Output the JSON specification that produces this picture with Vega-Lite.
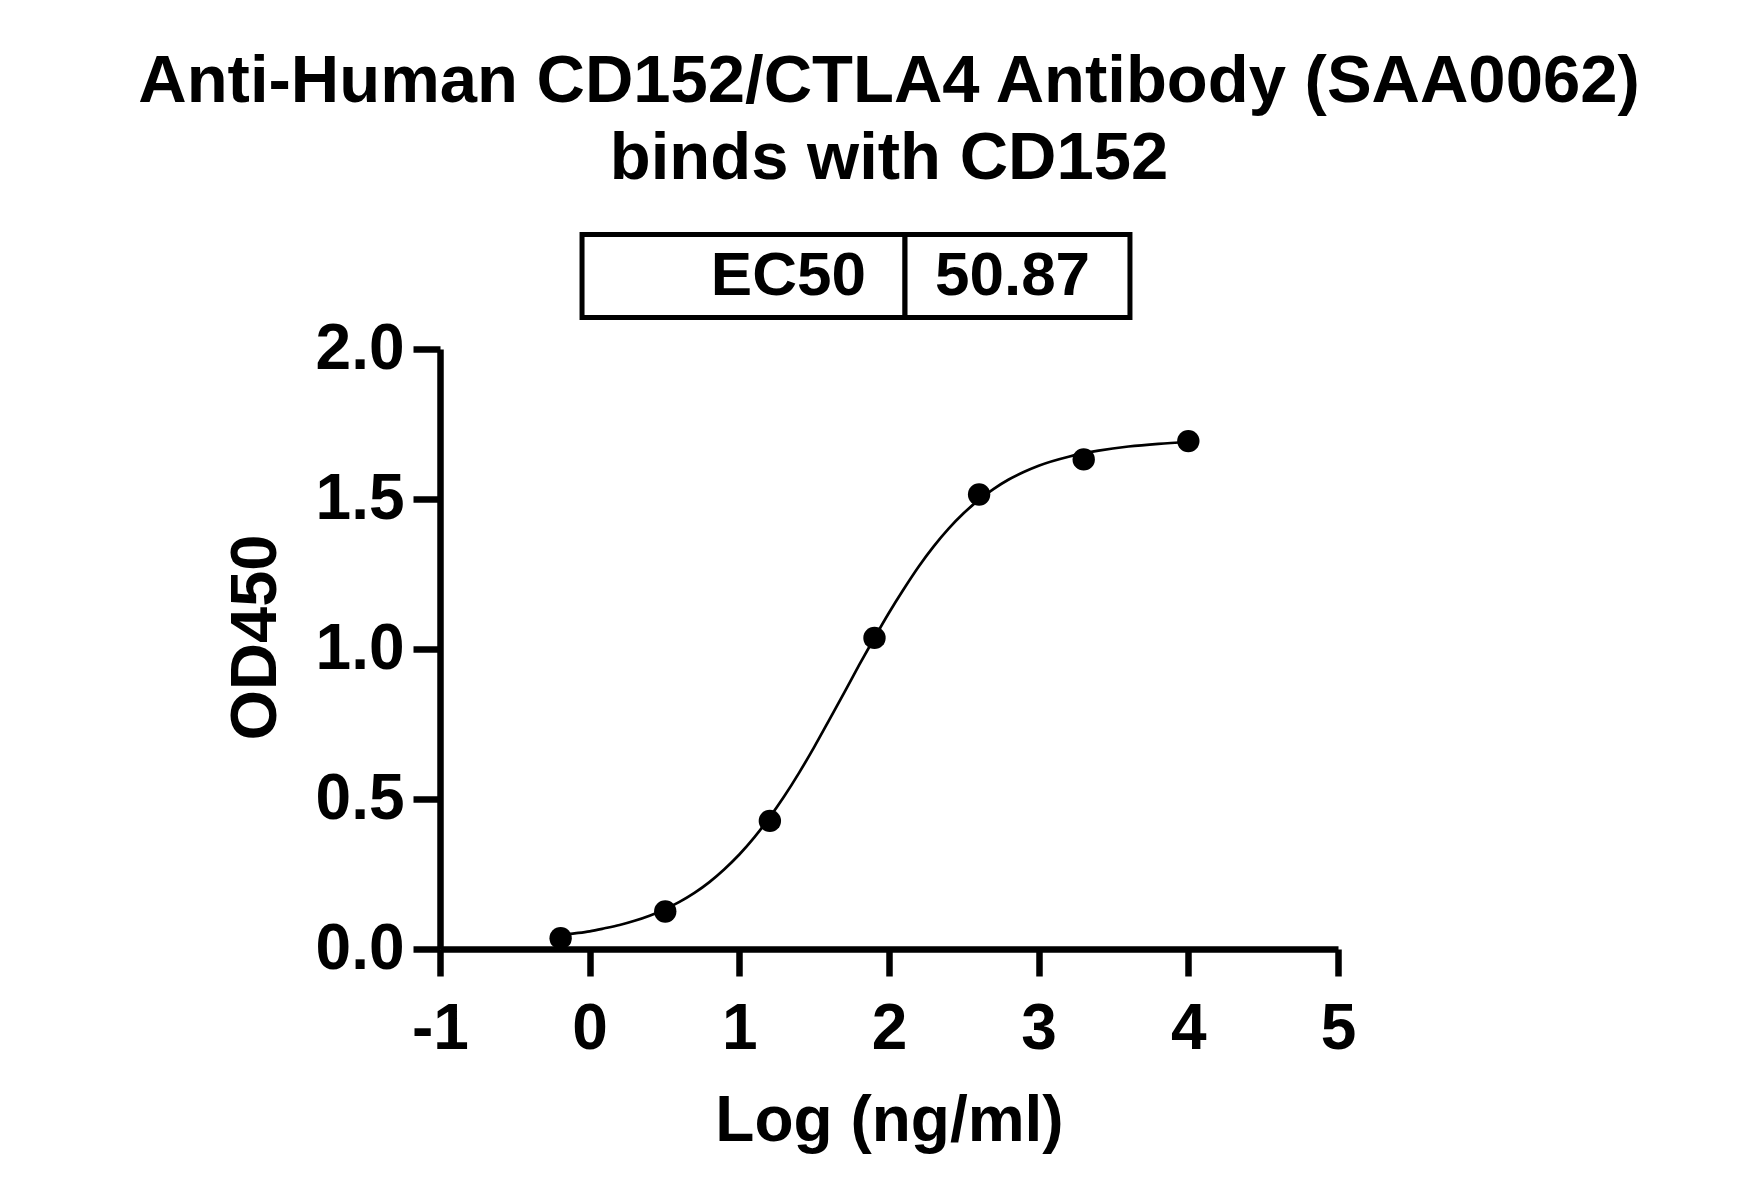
{
  "$schema": "https://vega.github.io/schema/vega-lite/v6.json",
  "width": 898,
  "height": 600,
  "autosize": "none",
  "padding": {"left": 440, "top": 349, "right": 403, "bottom": 248},
  "background": "white",
  "title": {
    "text": ["Anti-Human CD152/CTLA4 Antibody (SAA0062)", "binds with CD152"],
    "font": "Liberation Sans",
    "fontSize": 67,
    "fontWeight": "bold",
    "color": "black",
    "lineHeight": 77,
    "anchor": "middle",
    "offset": 39
  },
  "datasets": {
    "points": [
      {"logConc": -0.194, "od": 0.036},
      {"logConc": 0.505, "od": 0.125},
      {"logConc": 1.204, "od": 0.427},
      {"logConc": 1.903, "od": 1.037},
      {"logConc": 2.602, "od": 1.515},
      {"logConc": 3.301, "od": 1.632},
      {"logConc": 4.0, "od": 1.693}
    ],
    "curve": [
      {"logConc": -0.194, "od": 0.046},
      {"logConc": -0.1, "od": 0.052},
      {"logConc": 0.0, "od": 0.059},
      {"logConc": 0.1, "od": 0.069},
      {"logConc": 0.2, "od": 0.080},
      {"logConc": 0.3, "od": 0.094},
      {"logConc": 0.4, "od": 0.111},
      {"logConc": 0.5, "od": 0.132},
      {"logConc": 0.6, "od": 0.157},
      {"logConc": 0.7, "od": 0.187},
      {"logConc": 0.8, "od": 0.223},
      {"logConc": 0.9, "od": 0.266},
      {"logConc": 1.0, "od": 0.315},
      {"logConc": 1.1, "od": 0.372},
      {"logConc": 1.2, "od": 0.437},
      {"logConc": 1.3, "od": 0.509},
      {"logConc": 1.4, "od": 0.588},
      {"logConc": 1.5, "od": 0.673},
      {"logConc": 1.6, "od": 0.763},
      {"logConc": 1.7, "od": 0.854},
      {"logConc": 1.8, "od": 0.946},
      {"logConc": 1.9, "od": 1.035},
      {"logConc": 2.0, "od": 1.121},
      {"logConc": 2.1, "od": 1.201},
      {"logConc": 2.2, "od": 1.276},
      {"logConc": 2.3, "od": 1.343},
      {"logConc": 2.4, "od": 1.402},
      {"logConc": 2.5, "od": 1.453},
      {"logConc": 2.6, "od": 1.497},
      {"logConc": 2.7, "od": 1.534},
      {"logConc": 2.8, "od": 1.565},
      {"logConc": 2.9, "od": 1.590},
      {"logConc": 3.0, "od": 1.611},
      {"logConc": 3.2, "od": 1.641},
      {"logConc": 3.4, "od": 1.661},
      {"logConc": 3.6, "od": 1.675},
      {"logConc": 3.8, "od": 1.684},
      {"logConc": 4.0, "od": 1.690}
    ],
    "table": [
      {"cell": "label", "x0": -0.051, "x1": 2.107, "y0": 2.105, "y1": 2.382},
      {"cell": "value", "x0": 2.107, "x1": 3.61, "y0": 2.105, "y1": 2.382}
    ],
    "tableText": [
      {"text": "EC50", "tx": 1.846, "ty": 2.18},
      {"text": "50.87", "tx": 2.307, "ty": 2.18}
    ]
  },
  "layer": [
    {
      "data": {"name": "curve"},
      "mark": {"type": "line", "color": "black", "strokeWidth": 2.7, "interpolate": "monotone"},
      "encoding": {
        "x": {
          "field": "logConc", "type": "quantitative",
          "scale": {"domain": [-1, 5], "nice": false, "zero": false},
          "axis": {
            "title": "Log (ng/ml)",
            "values": [-1, 0, 1, 2, 3, 4, 5],
            "labelExpr": "'' + datum.value",
            "labelPadding": 21,
            "titlePadding": 28,
            "labelFlush": false
          }
        },
        "y": {
          "field": "od", "type": "quantitative",
          "scale": {"domain": [0, 2], "nice": false},
          "axis": {
            "title": "OD450",
            "values": [0, 0.5, 1, 1.5, 2],
            "format": ".1f",
            "labelPadding": 9,
            "titlePadding": 26,
            "titleY": 288,
            "titleFontSize": 65,
            "labelFlush": false
          }
        }
      }
    },
    {
      "data": {"name": "points"},
      "mark": {"type": "circle", "color": "black", "opacity": 1, "size": 500},
      "encoding": {
        "x": {"field": "logConc", "type": "quantitative"},
        "y": {"field": "od", "type": "quantitative"}
      }
    },
    {
      "data": {"name": "table"},
      "mark": {"type": "rect", "fill": "white", "stroke": "black", "strokeWidth": 5},
      "encoding": {
        "x": {"field": "x0", "type": "quantitative"},
        "x2": {"field": "x1"},
        "y": {"field": "y0", "type": "quantitative"},
        "y2": {"field": "y1"}
      }
    },
    {
      "data": {"name": "tableText"},
      "transform": [{"filter": "datum.text === 'EC50'"}],
      "mark": {"type": "text", "align": "right", "baseline": "alphabetic", "font": "Liberation Sans", "fontWeight": "bold", "fontSize": 62, "color": "black"},
      "encoding": {
        "x": {"field": "tx", "type": "quantitative"},
        "y": {"field": "ty", "type": "quantitative"},
        "text": {"field": "text"}
      }
    },
    {
      "data": {"name": "tableText"},
      "transform": [{"filter": "datum.text !== 'EC50'"}],
      "mark": {"type": "text", "align": "left", "baseline": "alphabetic", "font": "Liberation Sans", "fontWeight": "bold", "fontSize": 62, "color": "black"},
      "encoding": {
        "x": {"field": "tx", "type": "quantitative"},
        "y": {"field": "ty", "type": "quantitative"},
        "text": {"field": "text"}
      }
    }
  ],
  "config": {
    "view": {"stroke": null},
    "axis": {
      "grid": false,
      "domainColor": "black",
      "domainWidth": 6.5,
      "tickColor": "black",
      "tickWidth": 6.5,
      "tickSize": 27,
      "labelFont": "Liberation Sans",
      "labelFontSize": 64,
      "labelFontWeight": "bold",
      "labelColor": "black",
      "titleFont": "Liberation Sans",
      "titleFontSize": 64,
      "titleFontWeight": "bold",
      "titleColor": "black"
    }
  }
}
